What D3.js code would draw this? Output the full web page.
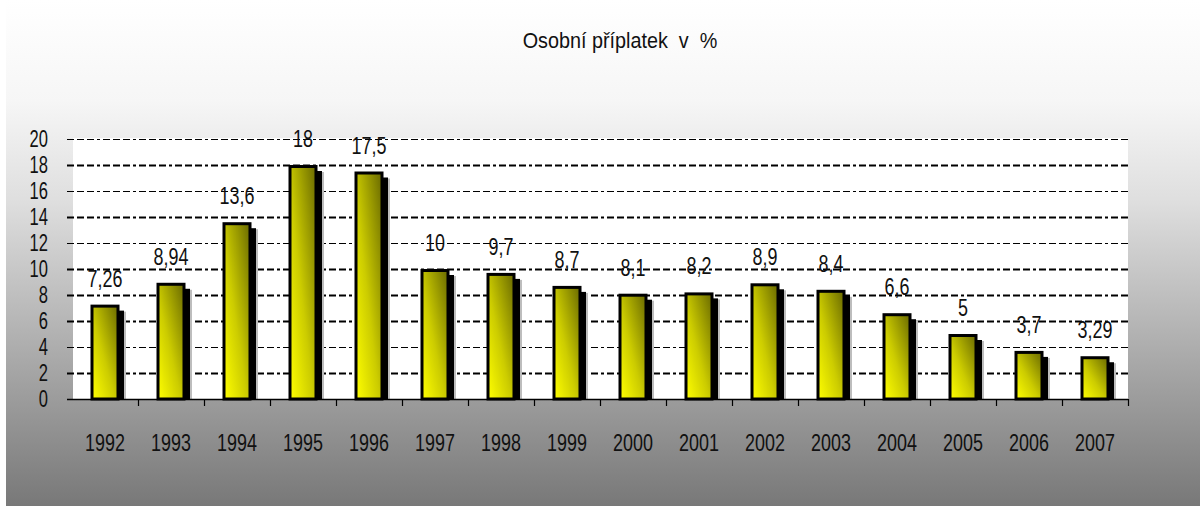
<!DOCTYPE html>
<html><head><meta charset="utf-8">
<script src="https://cdn.jsdelivr.net/npm/d3@7"></script>
<style>
html,body{margin:0;padding:0;background:#fff;}
svg{display:block;}
text{font-family:"Liberation Sans",Arial,sans-serif;fill:#111;}
</style></head>
<body>
<svg id="chart" width="1200" height="506"></svg>
<script>
const title = "Osobní příplatek  v  %";
const years = ["1992","1993","1994","1995","1996","1997","1998","1999","2000","2001","2002","2003","2004","2005","2006","2007"];
const values = [7.26, 8.94, 13.6, 18, 17.5, 10, 9.7, 8.7, 8.1, 8.2, 8.9, 8.4, 6.6, 5, 3.7, 3.29];
const valueLabels = ["7,26","8,94","13,6","18","17,5","10","9,7","8,7","8,1","8,2","8,9","8,4","6,6","5","3,7","3,29"];
const yTicks = [0,2,4,6,8,10,12,14,16,18,20];

const W = 1200, H = 506;
const svg = d3.select("#chart");
const defs = svg.append("defs");

const bg = defs.append("linearGradient").attr("id","bg").attr("x1",0).attr("y1",0).attr("x2",0).attr("y2",1);
[[0,"#ffffff"],[0.2,"#f6f6f6"],[0.4,"#dedede"],[0.7,"#ababab"],[1,"#787878"]].forEach(s=>bg.append("stop").attr("offset",s[0]).attr("stop-color",s[1]));

const bar = defs.append("linearGradient").attr("id","bar").attr("x1",0).attr("y1",1).attr("x2",1).attr("y2",0);
[[0,"#ffff00"],[0.45,"#cccc00"],[1,"#6a6a00"]].forEach(s=>bar.append("stop").attr("offset",s[0]).attr("stop-color",s[1]));

svg.append("rect").attr("width",W).attr("height",H).attr("fill","url(#bg)");
svg.append("rect").attr("x",0).attr("y",0).attr("width",6).attr("height",H).attr("fill","#fff");

const m = {left:72, right:1128, top:139, bottom:399};
const x = d3.scaleBand().domain(years).range([m.left, m.right]).padding(0);
const y = d3.scaleLinear().domain([0,20]).range([m.bottom, m.top]);

// plot area
svg.append("rect").attr("x",73).attr("y",138).attr("width",m.right-73).attr("height",m.bottom-138).attr("fill","#fff");

// title
svg.append("text").attr("transform","translate(620,48) scale(0.9,1)")
  .attr("text-anchor","middle").attr("font-size",22).attr("xml:space","preserve").text(title);

// gridlines
svg.append("g").selectAll("line").data(yTicks.filter(d=>d>0)).join("line")
  .attr("x1",67).attr("x2",m.right).attr("y1",d=>Math.round(y(d))+0.5).attr("y2",d=>Math.round(y(d))+0.5)
  .attr("stroke","#000").attr("stroke-width",d=>[2,6,8,10,14,18].includes(d)?2:1.2)
  .attr("stroke-dasharray","7,3,7,3,7,3,3,3");

// y tick labels
svg.append("g").selectAll("text").data(yTicks).join("text")
  .attr("transform",d=>`translate(48,${y(d)+8}) scale(0.72,1)`)
  .attr("text-anchor","end").attr("font-size",23).text(d=>d);

const bw = 28;
const g = svg.append("g");
// light shadow
g.selectAll("rect.ls").data(values).join("rect").attr("class","ls")
  .attr("x",(d,i)=>x(years[i])+x.bandwidth()/2-bw/2+7).attr("y",d=>y(d)+7)
  .attr("width",bw).attr("height",d=>m.bottom-y(d)-7).attr("fill","#bdbdbd");
// dark shadow
g.selectAll("rect.sh").data(values).join("rect").attr("class","sh")
  .attr("x",(d,i)=>x(years[i])+x.bandwidth()/2-bw/2+5).attr("y",d=>y(d)+6)
  .attr("width",bw).attr("height",d=>m.bottom-y(d)-6).attr("fill","#000");
// bars
g.selectAll("rect.b").data(values).join("rect").attr("class","b")
  .attr("x",(d,i)=>x(years[i])+x.bandwidth()/2-bw/2+1).attr("y",d=>y(d)+1.5)
  .attr("width",bw-2).attr("height",d=>m.bottom-y(d)-1.5)
  .attr("fill","url(#bar)").attr("stroke","#000").attr("stroke-width",3);

// axis baseline + ticks
svg.append("line").attr("x1",67).attr("x2",m.right).attr("y1",m.bottom+0.5).attr("y2",m.bottom+0.5).attr("stroke","#000").attr("stroke-width",1.5);
svg.append("g").selectAll("line").data(years.slice(1).concat(["end"])).join("line")
  .attr("x1",(d,i)=>Math.round(m.left+(i+1)*x.bandwidth())+0.5).attr("x2",(d,i)=>Math.round(m.left+(i+1)*x.bandwidth())+0.5)
  .attr("y1",m.bottom).attr("y2",m.bottom+7).attr("stroke","#000").attr("stroke-width",1.2);

// year labels
svg.append("g").selectAll("text").data(years).join("text")
  .attr("transform",d=>`translate(${x(d)+x.bandwidth()/2},451) scale(0.78,1)`)
  .attr("text-anchor","middle").attr("font-size",23).text(d=>d);

// value labels
svg.append("g").selectAll("text").data(values).join("text")
  .attr("transform",(d,i)=>`translate(${x(years[i])+x.bandwidth()/2},${y(d)-18}) scale(0.78,1)`)
  .attr("text-anchor","middle").attr("font-size",23).text((d,i)=>valueLabels[i]);
</script>
</body></html>
